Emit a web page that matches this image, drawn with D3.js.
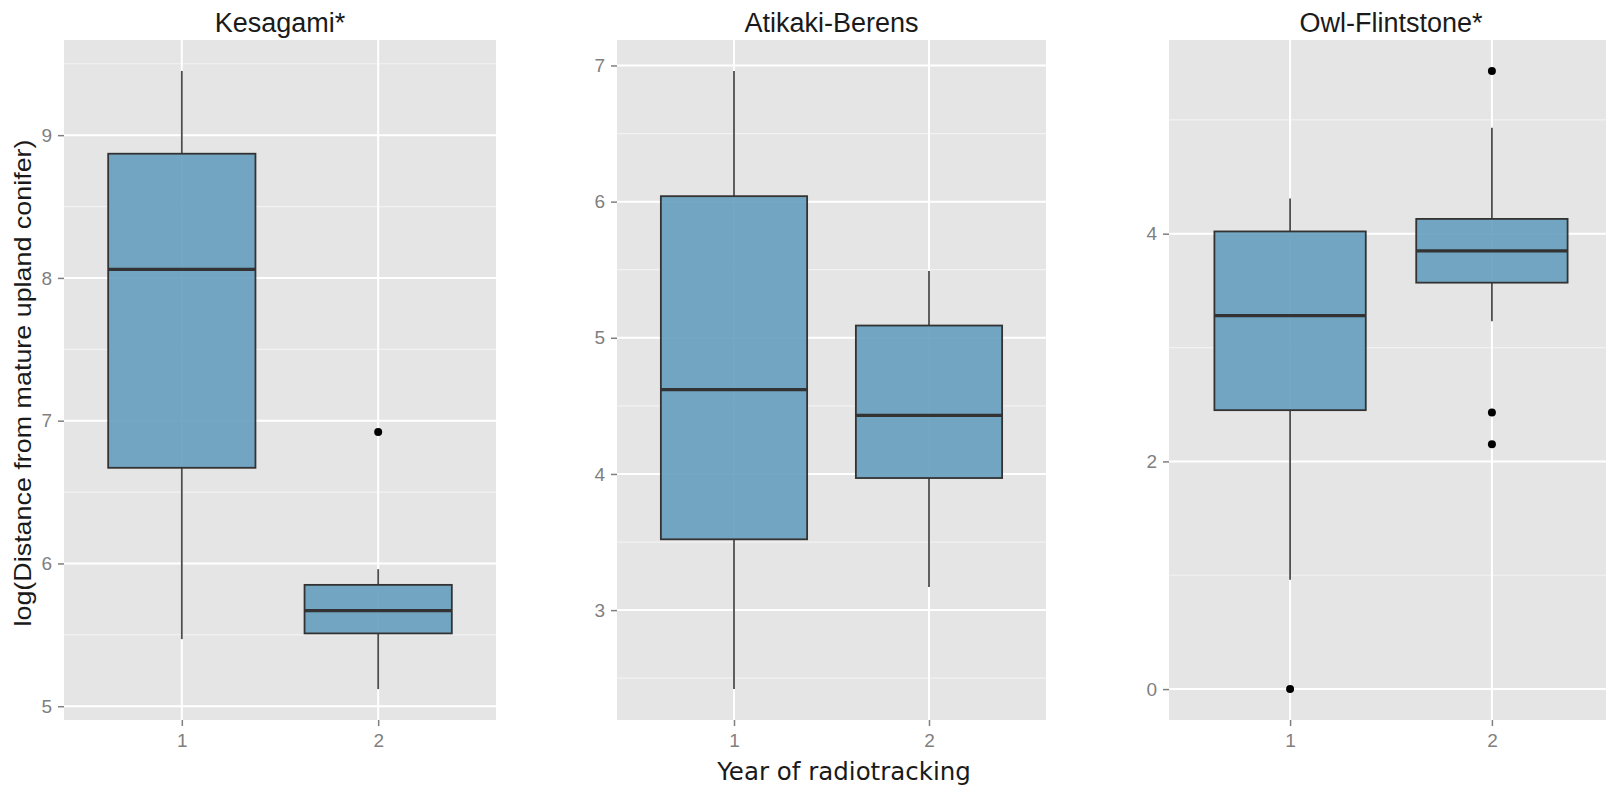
<!DOCTYPE html>
<html>
<head>
<meta charset="utf-8">
<script src="https://cdn.jsdelivr.net/npm/d3@7"></script>
<style>
  html, body { margin: 0; padding: 0; background: #ffffff; overflow: hidden; }
  svg { display: block; }
</style>
</head>
<body>
<svg id="chart" width="1606" height="791"></svg>
<script>
// Study sites (one panel each) and radiotracking years
const sites = ["Kesagami*", "Atikaki-Berens", "Owl-Flintstone*"];
const years = ["1", "2"];

// Box-plot summaries per site, [year 1, year 2]
const whiskerLow  = [[5.47, 5.12], [2.42, 3.17], [0.96, 3.23]];
const q1          = [[6.67, 5.51], [3.52, 3.97], [2.45, 3.57]];
const median      = [[8.06, 5.67], [4.62, 4.43], [3.28, 3.85]];
const q3          = [[8.87, 5.85], [6.04, 5.09], [4.02, 4.13]];
const whiskerHigh = [[9.45, 5.96], [6.96, 5.49], [4.31, 4.93]];
const outliers    = [[[], [6.92]], [[], []], [[0.0], [2.15, 2.43, 5.43]]];

// Axis tick labels per panel
const yTicks = [[5, 6, 7, 8, 9], [3, 4, 5, 6, 7], [0, 2, 4]];
const yMinor = [[5.5, 6.5, 7.5, 8.5, 9.5], [2.5, 3.5, 4.5, 5.5, 6.5], [1, 3, 5]];

const yTitle = "log(Distance from mature upland conifer)";
const xTitle = "Year of radiotracking";

// Panel geometry
const panelLeft  = [64, 617, 1169];
const panelRight = [496, 1046, 1613];
const panelTop = 40, panelBottom = 720;

const svg = d3.select("#chart");
const bg = "#E5E5E5";
const boxFill = "#659DBD";
const ink = "#333333";
const tickGrey = "#7F7F7F";
const sans = "Liberation Sans, Arial, sans-serif";

sites.forEach((site, s) => {
  const x = d3.scalePoint().domain(years).range([panelLeft[s], panelRight[s]]).padding(0.6);
  const step = x.step();
  const boxW = step * 0.75;

  // y range from data extent with 5% expansion
  const all = [...whiskerLow[s], ...whiskerHigh[s], ...outliers[s].flat()];
  const lo = d3.min(all), hi = d3.max(all), pad = (hi - lo) * 0.05;
  const y = d3.scaleLinear().domain([lo - pad, hi + pad]).range([panelBottom, panelTop]);

  const g = svg.append("g");

  // panel background
  g.append("rect")
    .attr("x", panelLeft[s]).attr("y", panelTop)
    .attr("width", panelRight[s] - panelLeft[s]).attr("height", panelBottom - panelTop)
    .attr("fill", bg);

  // minor grid
  g.selectAll(".minor").data(yMinor[s].filter(v => y(v) > panelTop && y(v) < panelBottom))
    .join("line")
    .attr("x1", panelLeft[s]).attr("x2", panelRight[s])
    .attr("y1", d => y(d)).attr("y2", d => y(d))
    .attr("stroke", "#F2F2F2").attr("stroke-width", 1.2);

  // major grid
  g.selectAll(".majorY").data(yTicks[s]).join("line")
    .attr("x1", panelLeft[s]).attr("x2", panelRight[s])
    .attr("y1", d => y(d)).attr("y2", d => y(d))
    .attr("stroke", "#FFFFFF").attr("stroke-width", 2);
  g.selectAll(".majorX").data(years).join("line")
    .attr("x1", d => x(d)).attr("x2", d => x(d))
    .attr("y1", panelTop).attr("y2", panelBottom)
    .attr("stroke", "#FFFFFF").attr("stroke-width", 2);

  // y axis
  const yAxis = g.append("g")
    .attr("transform", `translate(${panelLeft[s]},0)`)
    .call(d3.axisLeft(y).tickValues(yTicks[s]).tickSize(6).tickPadding(6).tickFormat(d3.format("d")));
  yAxis.select(".domain").remove();
  yAxis.selectAll(".tick line").attr("stroke", tickGrey).attr("stroke-width", 1.5);
  yAxis.selectAll(".tick text")
    .attr("fill", tickGrey).attr("font-family", sans).attr("font-size", 19);

  // x axis
  const xAxis = g.append("g")
    .attr("transform", `translate(0,${panelBottom})`)
    .call(d3.axisBottom(x).tickSize(6).tickPadding(8));
  xAxis.select(".domain").remove();
  xAxis.selectAll(".tick line").attr("stroke", tickGrey).attr("stroke-width", 1.5);
  xAxis.selectAll(".tick text")
    .attr("fill", tickGrey).attr("font-family", sans).attr("font-size", 19);

  // boxes
  years.forEach((yr, i) => {
    const cx = x(yr);
    const b = g.append("g");
    b.append("line")
      .attr("x1", cx).attr("x2", cx)
      .attr("y1", y(whiskerHigh[s][i])).attr("y2", y(q3[s][i]))
      .attr("stroke", "#4D4D4D").attr("stroke-width", 1.8);
    b.append("line")
      .attr("x1", cx).attr("x2", cx)
      .attr("y1", y(q1[s][i])).attr("y2", y(whiskerLow[s][i]))
      .attr("stroke", "#4D4D4D").attr("stroke-width", 1.8);
    b.append("rect")
      .attr("x", cx - boxW / 2).attr("width", boxW)
      .attr("y", y(q3[s][i])).attr("height", y(q1[s][i]) - y(q3[s][i]))
      .attr("fill", boxFill).attr("fill-opacity", 0.9)
      .attr("stroke", ink).attr("stroke-width", 1.8);
    b.append("line")
      .attr("x1", cx - boxW / 2).attr("x2", cx + boxW / 2)
      .attr("y1", y(median[s][i])).attr("y2", y(median[s][i]))
      .attr("stroke", ink).attr("stroke-width", 3.2);
    b.selectAll("circle").data(outliers[s][i]).join("circle")
      .attr("cx", cx).attr("cy", d => y(d)).attr("r", 4)
      .attr("fill", "#000000");
  });

  // panel title
  svg.append("text")
    .attr("x", (panelLeft[s] + panelRight[s]) / 2).attr("y", 32)
    .attr("text-anchor", "middle")
    .attr("font-family", sans)
    .attr("font-size", 27).attr("fill", "#1a1a1a")
    .text(site);
});

// shared axis titles
svg.append("text")
  .attr("transform", `translate(31,${(panelTop + panelBottom) / 2 + 3}) rotate(-90)`)
  .attr("text-anchor", "middle")
  .attr("font-family", sans)
  .attr("font-size", 24.5).attr("fill", "#1a1a1a")
  .attr("textLength", 487).attr("lengthAdjust", "spacingAndGlyphs")
  .text(yTitle);

svg.append("text")
  .attr("x", 844).attr("y", 780)
  .attr("text-anchor", "middle")
  .attr("font-family", "DejaVu Sans, sans-serif")
  .attr("font-size", 24.5).attr("fill", "#1a1a1a")
  .text(xTitle);
</script>
</body>
</html>
